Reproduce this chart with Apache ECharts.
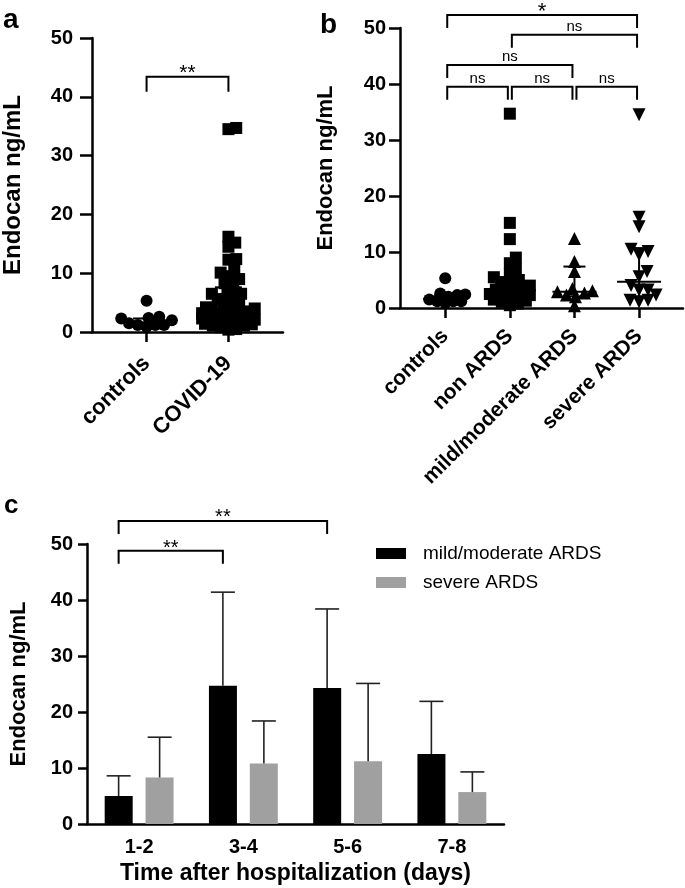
<!DOCTYPE html>
<html><head><meta charset="utf-8">
<script src="https://cdn.jsdelivr.net/npm/echarts@6/dist/echarts.min.js"></script>
<style>html,body{margin:0;padding:0;background:#fff}#c{width:685px;height:888px}</style>
</head><body><div id="c"></div><script>
// ---------- data ----------
const groupsA = ['controls', 'COVID-19'];
const groupsB = ['controls', 'non ARDS', 'mild/moderate ARDS', 'severe ARDS'];
const controls = [5.3, 2.6, 2.4, 2.3, 2.0, 1.5, 1.2, 1.2, 1.2, 0.9];
const nonArds = [34.7, 15.2, 12.3, 9.0, 8.0, 7.0, 6.0, 5.5, 5.0, 4.6, 4.2, 4.0, 3.6, 3.3, 3.0, 2.9, 2.7, 2.5, 2.3, 2.1, 2.0, 1.8, 1.6, 1.5, 1.3, 1.1, 0.8, 0.5];
const mildModerate = [12.4, 8.3, 6.5, 3.5, 3.1, 2.9, 2.7, 2.3, 2.0, 0.4];
const severe = [34.5, 16.2, 14.5, 10.5, 10.1, 9.5, 6.5, 5.6, 4.0, 3.2, 3.2, 2.3, 1.4, 1.4, 1.1];
const covid19 = nonArds.concat(mildModerate, severe);
const medianA = [1.6, 3.0], q1A = [1.2, 1.8], q3A = [2.3, 7.6];
const medianB = [1.6, 3.2, 2.9, 4.7], q1B = [1.2, 1.6, 2.1, 2.0], q3B = [2.3, 5.5, 7.4, 10.7];
const days = ['1-2', '3-4', '5-6', '7-8'];
const mildMean = [5.0, 24.7, 24.3, 12.5];
const mildSD = [3.6, 16.7, 14.1, 9.4];
const severeMean = [8.3, 10.8, 11.2, 5.7];
const severeSD = [7.2, 7.6, 13.9, 3.6];
const bracketsA = [[0, 1, 43.4]], labelsA = ['**'];
const bracketsB = [[0, 3, 52.3], [1, 3, 48.8], [0, 2, 43.4], [0, 1, 39.5], [1, 2, 39.5], [2, 3, 39.5]];
const labelsB = ['*', 'ns', 'ns', 'ns', 'ns', 'ns'];
const bracketsC = [[0, 2, 54.1], [0, 1, 48.8]], labelsC = ['**', '**'];

// ---------- helpers ----------
const FONT = "'Liberation Sans', Arial, Helvetica, sans-serif";
const BLACK = '#000';

function swarm(values, gi, pxX, pxY, minDist, maxOff) {
  const placed = [], out = [];
  const order = values.map((v, i) => i).sort((a, b) => values[a] - values[b]);
  for (const i of order) {
    const y = values[i] * pxY;
    let best = 0, bestD = -1, found = false;
    for (let k = 0; k <= maxOff && !found; k += 1) {
      const cands = k === 0 ? [0] : [k, -k];
      for (const s of cands) {
        let d = Infinity;
        for (const p of placed) { const dd = Math.hypot(p[0] - s, p[1] - y); if (dd < d) d = dd; }
        if (d >= minDist) { best = s; found = true; break; }
        if (d > bestD) { bestD = d; best = s; }
      }
    }
    placed.push([best, y]);
    out.push([gi + best / pxX, values[i]]);
  }
  return out;
}

function yAx(gridIndex, name, nameSize, nameGap, tickLen, margin, labelSize) {
  return {
    type: 'value', gridIndex, min: 0, max: 50, interval: 10,
    name, nameLocation: 'middle', nameGap,
    nameTextStyle: { fontSize: nameSize, fontWeight: 'bold', color: BLACK, fontFamily: FONT },
    axisLine: { show: true, onZero: false, lineStyle: { color: BLACK, width: 2.5 } },
    axisTick: { show: true, length: tickLen, lineStyle: { color: BLACK, width: 2.5 } },
    axisLabel: { fontSize: labelSize, fontWeight: 'bold', color: BLACK, margin, fontFamily: FONT },
    splitLine: { show: false }
  };
}
function xVal(gridIndex, min, max, cats, fontSize, margin) {
  const vals = cats.map((c, i) => i);
  return {
    type: 'value', gridIndex, min, max,
    axisLine: { show: true, onZero: false, lineStyle: { color: BLACK, width: 2.5 } },
    axisTick: { show: true, customValues: vals, length: 10, lineStyle: { color: BLACK, width: 2.5 } },
    axisLabel: { customValues: vals, formatter: v => cats[Math.round(v)], rotate: 45, fontSize, fontWeight: 'bold', color: BLACK, margin, fontFamily: FONT },
    splitLine: { show: false }
  };
}
function bracketRender(labels, leg, sizes, inset, xShift, gaps) {
  return function (params, api) {
    const y = api.value(2);
    const p1 = api.coord([api.value(0), y]);
    const p2 = api.coord([api.value(1), y]);
    const x1 = p1[0] + xShift + inset, x2 = p2[0] + xShift - inset, yy = p1[1];
    const lab = labels[params.dataIndex];
    const star = lab.indexOf('*') >= 0;
    const fs = sizes[params.dataIndex];
    const ym = yy - gaps[params.dataIndex] + (star ? 0.25 : -0.09) * fs;
    return {
      type: 'group', children: [
        { type: 'polyline', shape: { points: [[x1, yy + leg], [x1, yy], [x2, yy], [x2, yy + leg]] }, style: { stroke: BLACK, lineWidth: 2, fill: null } },
        { type: 'text', x: (x1 + x2) / 2, y: ym, style: { text: lab, fill: BLACK, font: fs + 'px ' + FONT, align: 'center', verticalAlign: 'middle' } }
      ]
    };
  };
}
function statRender(medW, qW) {
  return function (params, api) {
    const i = api.value(0);
    const m = api.coord([i, api.value(1)]);
    const a = api.coord([i, api.value(2)]);
    const b = api.coord([i, api.value(3)]);
    const st = { stroke: BLACK, lineWidth: 2 };
    return {
      type: 'group', children: [
        { type: 'line', shape: { x1: m[0] - medW / 2, y1: m[1], x2: m[0] + medW / 2, y2: m[1] }, style: st },
        { type: 'line', shape: { x1: a[0], y1: a[1], x2: b[0], y2: b[1] }, style: st },
        { type: 'line', shape: { x1: a[0] - qW / 2, y1: a[1], x2: a[0] + qW / 2, y2: a[1] }, style: st },
        { type: 'line', shape: { x1: b[0] - qW / 2, y1: b[1], x2: b[0] + qW / 2, y2: b[1] }, style: st }
      ]
    };
  };
}
function errRender(offset, capW) {
  return function (params, api) {
    const c = api.coord([api.value(0), api.value(1)]);
    const t = api.coord([api.value(0), api.value(2)]);
    const x = c[0] + offset;
    const st = { stroke: '#222', lineWidth: 1.6 };
    return {
      type: 'group', children: [
        { type: 'line', shape: { x1: x, y1: c[1], x2: x, y2: t[1] }, style: st },
        { type: 'line', shape: { x1: x - capW / 2, y1: t[1], x2: x + capW / 2, y2: t[1] }, style: st }
      ]
    };
  };
}

// ---------- geometry of grids ----------
const GA = { left: 87, top: 38, width: 196, height: 294 };
const GB = { left: 400, top: 28, width: 283, height: 280 };
const GC = { left: 74, top: 544, width: 430, height: 280 };
const aMin = -2 / 3, aMax = 5 / 3;
const bMin = -0.70, bMax = 3.68;
const pxXA = GA.width / (aMax - aMin), pxYA = GA.height / 50;
const pxXB = GB.width / (bMax - bMin), pxYB = GB.height / 50;
const BAR_W = 28, BAR_OFF = 20.5;

const mk = { color: BLACK, opacity: 1 };
const chart = echarts.init(document.getElementById('c'), null, { renderer: 'canvas' });
const option = {
  animation: false,
  backgroundColor: '#fff',
  textStyle: { fontFamily: FONT },
  grid: [GA, GB, GC].map(g => Object.assign({ containLabel: false }, g)),
  xAxis: [
    xVal(0, aMin, aMax, groupsA, 22, 28),
    xVal(1, bMin, bMax, groupsB, 21, 25),
    {
      type: 'category', gridIndex: 2, data: days,
      name: 'Time after hospitalization (days)', nameLocation: 'middle', nameGap: 38,
      nameTextStyle: { fontSize: 23, fontWeight: 'bold', color: BLACK, fontFamily: FONT },
      axisLine: { show: true, lineStyle: { color: BLACK, width: 2.5 } },
      axisTick: { show: false },
      axisLabel: { fontSize: 20, fontWeight: 'bold', color: BLACK, margin: 13, fontFamily: FONT },
      splitLine: { show: false }
    }
  ],
  yAxis: [
    yAx(0, 'Endocan ng/mL', 24, 67, 12, 19, 20),
    yAx(1, 'Endocan ng/mL', 22, 63, 11, 14, 20),
    yAx(2, 'Endocan ng/mL', 22, 57, 9, 14, 20)
  ],
  legend: {
    data: ['mild/moderate ARDS', 'severe ARDS'],
    orient: 'vertical', left: 371, top: 539, itemWidth: 30, itemHeight: 11, itemGap: 10,
    icon: 'rect', selectedMode: false,
    textStyle: { fontSize: 19, color: BLACK, fontFamily: FONT, padding: [0, 0, 0, 12] }
  },
  graphic: [
    { type: 'text', x: 3, y: 20, style: { text: 'a', font: 'bold 28px ' + FONT, fill: BLACK, verticalAlign: 'middle' } },
    { type: 'text', x: 320, y: 25, style: { text: 'b', font: 'bold 28px ' + FONT, fill: BLACK, verticalAlign: 'middle' } },
    { type: 'text', x: 4, y: 506, style: { text: 'c', font: 'bold 26px ' + FONT, fill: BLACK, verticalAlign: 'middle' } }
  ],
  series: [
    // panel a
    { type: 'scatter', xAxisIndex: 0, yAxisIndex: 0, symbol: 'circle', symbolSize: 12, itemStyle: mk, data: swarm(controls, 0, pxXA, pxYA, 9, 26), z: 2 },
    { type: 'scatter', xAxisIndex: 0, yAxisIndex: 0, symbol: 'rect', symbolSize: 12, itemStyle: mk, data: swarm(covid19, 1, pxXA, pxYA, 8, 27), z: 2 },
    { type: 'custom', xAxisIndex: 0, yAxisIndex: 0, renderItem: statRender(54, 27), encode: { x: 0, y: [1, 2, 3] }, data: groupsA.map((g, i) => [i, medianA[i], q1A[i], q3A[i]]), z: 3 },
    { type: 'custom', xAxisIndex: 0, yAxisIndex: 0, renderItem: bracketRender(labelsA, 15, [21], 0, 0, [9]), encode: { x: [0, 1], y: 2 }, data: bracketsA, z: 3 },
    // panel b
    { type: 'scatter', xAxisIndex: 1, yAxisIndex: 1, symbol: 'circle', symbolSize: 12, itemStyle: mk, data: swarm(controls, 0, pxXB, pxYB, 8, 20), z: 2 },
    { type: 'scatter', xAxisIndex: 1, yAxisIndex: 1, symbol: 'rect', symbolSize: 12, itemStyle: mk, data: swarm(nonArds, 1, pxXB, pxYB, 8, 20), z: 2 },
    { type: 'scatter', xAxisIndex: 1, yAxisIndex: 1, symbol: 'triangle', symbolSize: 13, itemStyle: mk, data: swarm(mildModerate, 2, pxXB, pxYB, 9, 18), z: 2 },
    { type: 'scatter', xAxisIndex: 1, yAxisIndex: 1, symbol: 'triangle', symbolRotate: 180, symbolSize: 13, itemStyle: mk, data: swarm(severe, 3, pxXB, pxYB, 9, 17), z: 2 },
    { type: 'custom', xAxisIndex: 1, yAxisIndex: 1, renderItem: statRender(44, 22), encode: { x: 0, y: [1, 2, 3] }, data: groupsB.map((g, i) => [i, medianB[i], q1B[i], q3B[i]]), z: 3 },
    { type: 'custom', xAxisIndex: 1, yAxisIndex: 1, renderItem: bracketRender(labelsB, 13, [22, 15, 15, 15, 15, 15], 2, 0, [9, 7, 7, 7, 7, 7]), encode: { x: [0, 1], y: 2 }, data: bracketsB, z: 3 },
    // panel c
    { type: 'bar', name: 'mild/moderate ARDS', xAxisIndex: 2, yAxisIndex: 2, data: mildMean, barWidth: BAR_W, barGap: '46%', itemStyle: { color: BLACK } },
    { type: 'bar', name: 'severe ARDS', xAxisIndex: 2, yAxisIndex: 2, data: severeMean, barWidth: BAR_W, itemStyle: { color: '#a0a0a0' } },
    { type: 'custom', xAxisIndex: 2, yAxisIndex: 2, renderItem: errRender(-BAR_OFF, 24), encode: { x: 0, y: [1, 2] }, data: days.map((d, i) => [i, mildMean[i], mildMean[i] + mildSD[i]]), z: 3 },
    { type: 'custom', xAxisIndex: 2, yAxisIndex: 2, renderItem: errRender(BAR_OFF, 24), encode: { x: 0, y: [1, 2] }, data: days.map((d, i) => [i, severeMean[i], severeMean[i] + severeSD[i]]), z: 3 },
    { type: 'custom', xAxisIndex: 2, yAxisIndex: 2, renderItem: bracketRender(labelsC, 13, [20, 20], 0, -BAR_OFF, [9, 7]), encode: { x: [0, 1], y: 2 }, data: bracketsC, z: 3 }
  ]
};
chart.setOption(option);
</script></body></html>
